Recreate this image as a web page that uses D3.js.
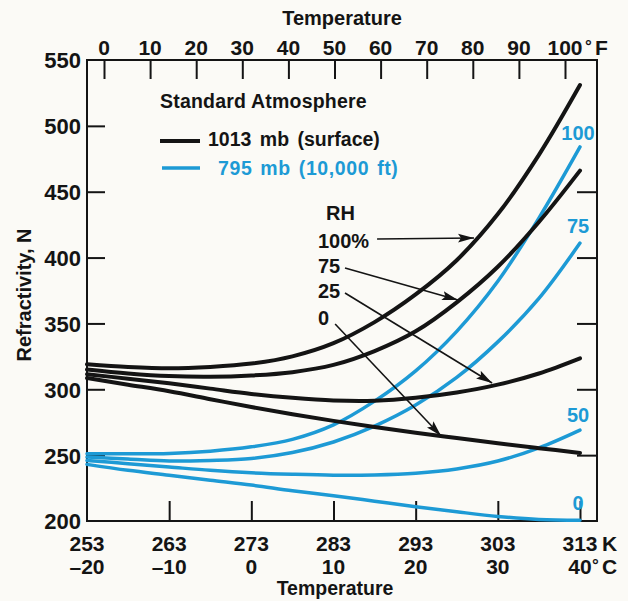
<!DOCTYPE html>
<html>
<head>
<meta charset="utf-8">
<script src="https://cdn.jsdelivr.net/npm/d3@7"></script>
<style>
body { margin: 0; background: #fbfaf6; }
text { font-family: "Liberation Sans", Arial, sans-serif; font-weight: bold; }
</style>
</head>
<body>
<svg id="chart" width="628" height="601"></svg>
<script>
// temperature grid (K) the curves are read on
kelvin = [253, 258, 263, 268, 273, 278, 283, 288, 293, 298, 303, 308, 313]
// 1013 mb (surface), refractivity N per RH
surface100 = [319, 317, 316, 317, 319.5, 325, 335, 351, 372, 398, 433, 478, 531]
surface75 = [315, 312, 310, 309.5, 310.5, 313, 318.5, 329, 344, 366, 393, 427, 466]
surface25 = [311.5, 308, 304.5, 300.5, 296.5, 293.5, 291.5, 291.3, 293.5, 297.5, 303.5, 312, 323.5]
surface0 = [308.5, 303.5, 298.5, 292.5, 286.5, 281, 276, 271.3, 267, 263, 259, 255.3, 251.7]
// 795 mb (10,000 ft)
alt100 = [251, 251, 251.3, 253, 256.3, 262, 273, 291, 314, 344, 382, 430, 484]
alt75 = [248.5, 247, 245.5, 246, 247.5, 252, 260, 272, 288, 309, 336, 369, 411]
alt50 = [246, 243.5, 241, 238.5, 236.6, 235.5, 234.8, 235, 236.3, 239.5, 245.5, 255.5, 269]
alt0 = [243, 238.5, 234.8, 231, 227.3, 223, 219.2, 215, 210.8, 207, 203.5, 201.2, 200.6]

kTicks = [253, 263, 273, 283, 293, 303, 313]
cLabels = ["\u201320", "\u201310", "0", "10", "20", "30", "40"]
fTicks = [0, 10, 20, 30, 40, 50, 60, 70, 80, 90, 100]
nTicks = [200, 250, 300, 350, 400, 450, 500, 550]
altLabels = ["100", "75", "50", "0"]
rhLabels = ["100%", "75", "25", "0"]
// arrows from RH labels to the surface curves: [K0, N0, K1, N1]
rhArrows = [[288.3, 414.1, 300.1, 414.9], [284.4, 392.1, 298.15, 367.8],
            [284.4, 373.1, 302.3, 304.8], [283.2, 349.6, 296.1, 264.5]]

black = "#141414"
blue = "#1d9ad5"

svg = d3.select("#chart")
svg.append("rect").attr("width", 628).attr("height", 601).attr("fill", "#fbfaf6")

x = d3.scaleLinear().domain([253, 315.07]).range([87, 597])
y = d3.scaleLinear().domain([200, 550]).range([521, 60])
xF = d3.scaleLinear().domain([0, 100]).range([104, 565])

// axes ticks (inward)
function styleAxis(g) {
    g.select(".domain").remove()
    g.selectAll("line").attr("stroke", black).attr("stroke-width", 2)
}
svg.append("g").attr("transform", `translate(0,${y(200)})`)
    .call(d3.axisBottom(x).tickValues(kTicks.slice(1)).tickSize(-20).tickFormat("")).call(styleAxis)
svg.append("g").attr("transform", `translate(0,${y(550)})`)
    .call(d3.axisTop(xF).tickValues(fTicks).tickSize(-19).tickFormat("")).call(styleAxis)
svg.append("g").attr("transform", `translate(${x(253)},0)`)
    .call(d3.axisLeft(y).tickValues(nTicks.slice(1, -1)).tickSize(-18).tickFormat("")).call(styleAxis)
svg.append("g").attr("transform", `translate(${x(315.07)},0)`)
    .call(d3.axisRight(y).tickValues([250, 300, 350, 400, 450]).tickSize(-20).tickFormat("")).call(styleAxis)

svg.append("rect").attr("x", x(253)).attr("y", y(550))
    .attr("width", x(315.07) - x(253)).attr("height", y(200) - y(550))
    .attr("fill", "none").attr("stroke", black).attr("stroke-width", 2)

// tick labels
svg.append("g").selectAll("text").data(nTicks).join("text")
    .attr("x", 81).attr("y", d => y(d)).attr("dy", "0.38em")
    .attr("text-anchor", "end").attr("font-size", 22).attr("fill", black).text(d => d)
svg.append("g").selectAll("text").data(kTicks).join("text")
    .attr("x", d => x(d)).attr("y", 551).attr("text-anchor", "middle")
    .attr("font-size", 21).attr("fill", black).text(d => d)
svg.append("g").selectAll("text").data(cLabels).join("text")
    .attr("x", (d, i) => x(kTicks[i])).attr("y", 574).attr("text-anchor", "middle")
    .attr("font-size", 21).attr("fill", black).text(d => d)
svg.append("g").selectAll("text").data(fTicks).join("text")
    .attr("x", d => xF(d)).attr("y", 55).attr("text-anchor", "middle")
    .attr("font-size", 21).attr("fill", black).text(d => d)

svg.append("text").attr("x", 602).attr("y", 551).attr("font-size", 21).attr("fill", black).text("K")
svg.append("text").attr("x", 592).attr("y", 571).attr("font-size", 17).attr("fill", black).text("\u00b0")
svg.append("text").attr("x", 602).attr("y", 574).attr("font-size", 21).attr("fill", black).text("C")
svg.append("text").attr("x", 585).attr("y", 52).attr("font-size", 17).attr("fill", black).text("\u00b0")
svg.append("text").attr("x", 595).attr("y", 55).attr("font-size", 21).attr("fill", black).text("F")

svg.append("text").attr("x", 342).attr("y", 25).attr("text-anchor", "middle")
    .attr("font-size", 20).attr("fill", black).text("Temperature")
svg.append("text").attr("x", 335).attr("y", 595).attr("text-anchor", "middle")
    .attr("font-size", 19.5).attr("fill", black).text("Temperature")
svg.append("text").attr("transform", "translate(31,295) rotate(-90)").attr("text-anchor", "middle")
    .attr("font-size", 20).attr("fill", black).text("Refractivity, N")

// curves
line = d3.line().x((d, i) => x(kelvin[i])).y(d => y(d)).curve(d3.curveCatmullRom)
surface = [surface100, surface75, surface25, surface0]
alt = [alt100, alt75, alt50, alt0]
svg.append("g").selectAll("path").data(alt).join("path")
    .attr("d", line).attr("fill", "none").attr("stroke", blue)
    .attr("stroke-width", 3.5).attr("stroke-linecap", "round")
svg.append("g").selectAll("path").data(surface).join("path")
    .attr("d", line).attr("fill", "none").attr("stroke", black)
    .attr("stroke-width", 4).attr("stroke-linecap", "round")

// blue RH labels at right end
altLabelY = [140, 233, 422, 510]
svg.append("g").selectAll("text").data(altLabels).join("text")
    .attr("x", 578).attr("y", (d, i) => altLabelY[i]).attr("text-anchor", "middle")
    .attr("font-size", 20).attr("fill", blue).text(d => d)

// legend
svg.append("text").attr("x", 160).attr("y", 108).attr("font-size", 19.5).attr("fill", black)
    .attr("letter-spacing", 0.2).text("Standard Atmosphere")
svg.append("line").attr("x1", 160).attr("x2", 200).attr("y1", 141).attr("y2", 141)
    .attr("stroke", black).attr("stroke-width", 4)
svg.append("text").attr("x", 208).attr("y", 146).attr("font-size", 19.5).attr("fill", black)
    .attr("word-spacing", 3).text("1013 mb (surface)")
svg.append("line").attr("x1", 162).attr("x2", 200).attr("y1", 168).attr("y2", 168)
    .attr("stroke", blue).attr("stroke-width", 3.5)
svg.append("text").attr("x", 218).attr("y", 175).attr("font-size", 19.5).attr("fill", blue)
    .attr("word-spacing", 2).attr("letter-spacing", 0.6).text("795 mb (10,000 ft)")

// RH labels and arrows
svg.append("text").attr("x", 326).attr("y", 220).attr("font-size", 20).attr("fill", black).text("RH")
rhLabelY = [248, 273, 298, 325]
svg.append("g").selectAll("text").data(rhLabels).join("text")
    .attr("x", 318).attr("y", (d, i) => rhLabelY[i]).attr("font-size", 20).attr("fill", black).text(d => d)

svg.append("defs").append("marker").attr("id", "head")
    .attr("viewBox", "0 0 16 10").attr("refX", 16).attr("refY", 5)
    .attr("markerWidth", 16).attr("markerHeight", 10)
    .attr("markerUnits", "userSpaceOnUse").attr("orient", "auto")
    .append("path").attr("d", "M0,0.5L16,5L0,9.5L3,5Z").attr("fill", black)
svg.append("g").selectAll("line").data(rhArrows).join("line")
    .attr("x1", d => x(d[0])).attr("y1", d => y(d[1]))
    .attr("x2", d => x(d[2])).attr("y2", d => y(d[3]))
    .attr("stroke", black).attr("stroke-width", 1.6).attr("marker-end", "url(#head)")
</script>
</body>
</html>
